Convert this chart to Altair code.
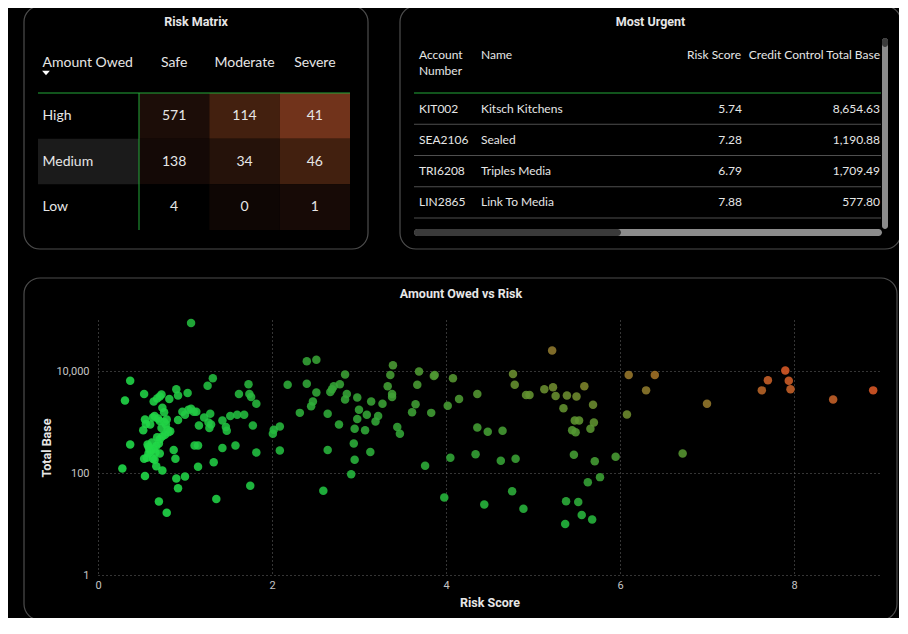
import altair as alt
import pandas as pd

# ---------------- data ----------------
amount_levels = ["High", "Medium", "Low"]
risk_levels = ["Safe", "Moderate", "Severe"]
matrix_counts = [[571, 114, 41], [138, 34, 46], [4, 0, 1]]

table_headers = ["Account Number", "Name", "Risk Score", "Credit Control Total Base"]
acct_numbers = ["KIT002", "SEA2106", "TRI6208", "LIN2865"]
acct_names = ["Kitsch Kitchens", "Sealed", "Triples Media", "Link To Media"]
acct_risk = [5.74, 7.28, 6.79, 7.88]
acct_base = [8654.63, 1190.88, 1709.49, 577.80]

risk_score = [
    1.07, 0.37, 0.31, 0.37, 0.28, 0.53, 0.54, 0.70, 0.79, 0.64,
    0.68, 0.71, 0.73, 0.74, 0.76, 0.82, 0.90, 0.92, 1.03, 1.26,
    1.32, 1.73, 1.74, 1.76, 1.82, 1.62, 1.78, 1.82, 1.75, 1.36,
    1.33, 1.15, 1.00, 0.90, 0.92, 0.74, 0.67, 0.87, 0.89, 0.92,
    0.97, 1.00, 1.04, 1.07, 1.10, 1.13, 1.16, 1.11, 1.15, 1.22,
    1.29, 1.27, 1.30, 1.28, 1.43, 1.47, 1.48, 1.43, 1.58, 1.52,
    1.60, 1.68,
    0.54, 0.55, 0.60, 0.63, 0.65, 0.69, 0.71, 0.76, 0.78, 0.80,
    0.81, 0.83, 0.77, 0.74, 0.71, 0.70, 0.67, 0.64, 0.61, 0.59,
    0.57, 0.52, 0.60, 0.56, 0.53, 0.58, 0.63, 0.65, 0.71, 0.62,
    0.66, 0.58, 0.68, 0.73, 0.79,
    2.18, 2.40, 2.51, 2.40, 2.51, 2.47, 2.45, 2.32, 2.64, 2.77,
    2.09, 2.02, 2.01, 2.09, 2.64, 2.59, 2.67, 2.69, 2.71, 2.78,
    2.84, 2.86, 2.84, 2.98, 3.00, 2.98, 3.09, 3.14, 3.27, 3.22,
    3.19, 2.95, 3.07, 2.94, 2.95, 2.91, 3.13, 3.36, 3.39, 3.33,
    3.38, 3.38, 3.44, 3.47, 3.69, 3.67, 3.87, 3.86, 3.65, 3.61,
    3.83, 3.76, 3.98, 4.08, 4.02, 4.15, 4.05, 4.36, 4.36, 4.48,
    4.65, 4.34, 4.63, 4.44,
    4.80, 4.76, 4.89, 4.77, 4.79, 4.92, 4.96, 5.13, 5.22, 5.23,
    5.26, 5.39, 5.50, 5.59, 5.35, 5.69, 5.48, 5.53, 5.70, 5.45,
    5.49, 5.66, 5.47, 5.71, 5.95, 5.77, 5.63, 5.38, 5.52, 5.56,
    5.37, 5.68, 6.10, 6.40, 6.30, 6.08, 6.72, 7.00, 7.90, 7.70,
    7.94, 7.63, 7.96, 8.45, 8.91,
]
total_base = [
    87100, 6460, 2630, 363, 123, 3550, 87, 27.5, 16.6, 2510,
    2880, 3160, 3470, 1905, 1550, 2820, 4370, 3310, 3720, 5130,
    7240, 5500, 3550, 3090, 2290, 3550, 851, 251, 56, 31,
    162, 132, 85, 78, 50, 112, 135, 282, 190, 1096,
    1585, 1380, 1740, 1820, 1585, 1585, 851, 347, 347, 1230,
    1445, 977, 891, 759, 1072, 794, 676, 309, 347, 1318,
    1380, 1380,
    1122, 912, 891, 1230, 1318, 1175, 1047, 1000, 891, 708,
    631, 661, 562, 525, 457, 380, 339, 295, 282, 295,
    363, 692, 263, 200, 190, 240, 190, 182, 240, 398,
    251, 331, 501, 759, 1122,
    5370, 15500, 16600, 5620, 3800, 2510, 2040, 1510, 1445, 891,
    813, 708, 589, 275, 282, 45, 3890, 4370, 5010, 5500,
    8510, 3550, 2750, 3020, 1740, 1150, 1380, 2510, 2290, 1318,
    1023, 741, 692, 380, 182, 95, 257, 8320, 12900, 5010,
    3550, 3090, 794, 589, 9770, 5370, 8320, 7940, 2240, 1550,
    1510, 138, 33, 7240, 2090, 2820, 200, 3550, 776, 646,
    676, 234, 174, 24,
    190, 44, 20, 8710, 5370, 3390, 3390, 4370, 25100, 4790,
    3240, 3310, 3160, 5010, 1860, 2190, 1072, 1072, 977, 692,
    631, 741, 229, 170, 209, 83, 66, 28, 27, 15,
    10, 12.3, 8320, 8320, 4170, 1410, 240, 2290, 10200, 6610,
    6460, 4170, 4370, 2750, 4170,
]
assert len(risk_score) == len(total_base)

# ---------------- styles ----------------
BG = "#000000"
FRAME = "#4d4d4d"
GREEN = "#22a838"
TXT = "#e6e6e6"
FONT = "Lato"
TFONT = "Roboto"

one = pd.DataFrame({"k": [0]})


def frame(x1, x2, y1, y2):
    return alt.Chart(one).mark_rect(
        cornerRadius=16, fill="transparent", stroke=FRAME, strokeWidth=1.2
    ).encode(x=alt.value(x1), x2=alt.value(x2), y=alt.value(y1), y2=alt.value(y2))


def label(text, x, y, **kw):
    return alt.Chart(one).mark_text(text=text, **kw).encode(x=alt.value(x), y=alt.value(y))


def box(x1, x2, y1, y2, color, r=3):
    return alt.Chart(one).mark_rect(color=color, cornerRadius=r).encode(
        x=alt.value(x1), x2=alt.value(x2), y=alt.value(y1), y2=alt.value(y2))


# ---------------- risk matrix ----------------
rows = []
for i, a in enumerate(amount_levels):
    for j, r in enumerate(risk_levels):
        rows.append({"amount": a, "risk": r, "count": matrix_counts[i][j], "cell": f"{a}|{r}"})
mdf = pd.DataFrame(rows)
cell_keys = list(mdf["cell"])
cell_palette = ["#1c0d08", "#43200f", "#71331b",
                "#140906", "#25120a", "#42200f",
                "#000000", "#0e0604", "#170a06"]

WM, HM = 252, 137
GX = 41  # left edge of the value cells inside the view
x_m = alt.X("risk:N", scale=alt.Scale(domain=risk_levels, range=[GX, WM], paddingInner=0, paddingOuter=0),
            axis=alt.Axis(orient="top", title=None, domain=False, ticks=False, labelAngle=0,
                          labelPadding=31, labelBaseline="middle", labelFont=FONT,
                          labelFontSize=14, labelColor=TXT, zindex=1))
y_m = alt.Y("amount:N", scale=alt.Scale(domain=amount_levels, paddingInner=0, paddingOuter=0),
            axis=alt.Axis(orient="left", title="Amount Owed", titleAngle=0, titleAlign="left",
                          titleBaseline="middle", titleX=-56, titleY=-31, titleFont=FONT,
                          titleFontSize=14, titleFontWeight="normal", titleColor=TXT,
                          domain=False, ticks=False,
                          labelAlign="left", labelPadding=56, labelFont=FONT,
                          labelFontSize=14, labelColor=TXT, zindex=1))

base_m = alt.Chart(mdf)
hl = base_m.transform_filter("datum.amount === 'Medium' && datum.risk === 'Safe'").mark_rect(
    color="#1b1b1b").encode(x=alt.value(-60), x2=alt.value(GX), y=y_m)
cells = base_m.mark_rect().encode(
    x=x_m, y=y_m,
    color=alt.Color("cell:N", scale=alt.Scale(domain=cell_keys, range=cell_palette), legend=None))
nums = base_m.mark_text(font=FONT, fontSize=14, color=TXT).encode(x=x_m, y=y_m, text="count:Q")
topline = alt.Chart(one).mark_rule(color=GREEN, strokeWidth=1).encode(
    x=alt.value(-60), x2=alt.value(WM), y=alt.value(0))
sideline = alt.Chart(one).mark_rule(color=GREEN, strokeWidth=1).encode(
    x=alt.value(GX), y=alt.value(0), y2=alt.value(HM))
tri = alt.Chart(one).mark_point(shape="M -1 -0.6 L 1 -0.6 L 0 0.6 Z", filled=True, color="white",
                                opacity=1, size=60).encode(x=alt.value(-52), y=alt.value(-20))
mtitle = label("Risk Matrix", 98, -71, font=TFONT, fontSize=12.5, fontWeight="bold", color=TXT)

matrix = alt.layer(frame(-74, 270, -87, 156), hl, cells, nums, topline, sideline, tri, mtitle).properties(
    width=WM, height=HM)

# ---------------- table ----------------
tdf = pd.DataFrame({"acct": acct_numbers, "name": acct_names, "risk": acct_risk, "base": acct_base})
WT, HT = 467, 125
y_t = alt.Y("acct:N", scale=alt.Scale(domain=acct_numbers, paddingInner=0, paddingOuter=0), axis=None)
base_t = alt.Chart(tdf)
tkw = dict(font=FONT, fontSize=12, color=TXT)
t_acct = base_t.mark_text(align="left", **tkw).encode(x=alt.value(5), y=y_t, text="acct:N")
t_name = base_t.mark_text(align="left", **tkw).encode(x=alt.value(67), y=y_t, text="name:N")
t_risk = base_t.mark_text(align="right", **tkw).encode(
    x=alt.value(328), y=y_t, text=alt.Text("risk:Q", format=".2f"))
t_base = base_t.mark_text(align="right", **tkw).encode(
    x=alt.value(466), y=y_t, text=alt.Text("base:Q", format=",.2f"))
seps = base_t.mark_rule(color="#4f4f4f", strokeWidth=1).encode(
    x=alt.value(0), x2=alt.value(WT),
    y=alt.Y("acct:N", bandPosition=1, scale=alt.Scale(domain=acct_numbers, paddingInner=0, paddingOuter=0), axis=None))
t_green = alt.Chart(one).mark_rule(color=GREEN, strokeWidth=1).encode(
    x=alt.value(0), x2=alt.value(WT), y=alt.value(0))
h1a, h1b = table_headers[0].split(" ")
hdrs = [
    label(h1a, 5, -38, align="left", **tkw),
    label(h1b, 5, -22, align="left", **tkw),
    label(table_headers[1], 67, -38, align="left", **tkw),
    label(table_headers[2], 327, -38, align="right", **tkw),
    label(table_headers[3], 466, -38, align="right", **tkw),
]
scroll = [
    box(468, 474, -55, 136, "#8c8c8c"),
    box(468, 474, -55, -46, "#3c3c3c"),
    box(0, 468, 136, 143, "#8c8c8c", 3.5),
    box(0, 207, 136, 143, "#3a3a3a", 3.5),
]
ttitle = label("Most Urgent", 236.5, -71, font=TFONT, fontSize=12.5, fontWeight="bold", color=TXT)

table = alt.layer(frame(-14, 487, -87, 156), t_green, seps, t_acct, t_name, t_risk, t_base,
                  *hdrs, *scroll, ttitle).properties(width=WT, height=HT)

# ---------------- scatter ----------------
sdf = pd.DataFrame({"risk": risk_score, "base": total_base})
WS, HS = 783, 255
u_domain = [0, 5, 10, 15, 19, 23, 28, 32]
u_range = ["#20e44c", "#22bd40", "#34a537", "#4f9a33", "#6c8d30", "#917a2f", "#c0642b", "#dc5927"]
gridkw = dict(grid=True, gridColor="#6a6a6a", gridDash=[1, 3], gridWidth=1, domain=False, ticks=False,
              labelColor="#c4c4c4", labelFont=TFONT, labelFontSize=11,
              titleColor=TXT, titleFont=TFONT, titleFontSize=12.5, titleFontWeight="bold")
pts = alt.Chart(sdf).transform_calculate(
    u="datum.risk * log(datum.base) / LN10"
).mark_circle(size=72, opacity=0.88).encode(
    x=alt.X("risk:Q", scale=alt.Scale(domain=[0, 9], nice=False, zero=False),
            axis=alt.Axis(values=[0, 2, 4, 6, 8], labelFlush=False, labelPadding=10,
                          labelBaseline="middle", title="Risk Score", titleX=WS / 2, titleY=27,
                          titleBaseline="middle", titleAlign="center", **gridkw)),
    y=alt.Y("base:Q", scale=alt.Scale(type="log", domain=[1, 100000], nice=False),
            axis=alt.Axis(values=[1, 100, 10000], format=",", labelPadding=9,
                          title="Total Base", titleX=-52, titleY=HS / 2, titleAngle=270,
                          titleBaseline="middle", titleAlign="center", **gridkw)),
    color=alt.Color("u:Q", scale=alt.Scale(domain=u_domain, range=u_range, clamp=True), legend=None),
)
stitle = label("Amount Owed vs Risk", 363, -26, font=TFONT, fontSize=12.5, fontWeight="bold", color=TXT)
scatter = alt.layer(frame(-74, 799, -42, 300), pts, stitle).properties(width=WS, height=HS)

# ---------------- layout ----------------
chart = alt.vconcat(
    alt.hconcat(matrix, table, spacing=28),
    scatter,
    spacing=25,
).properties(
    padding={"left": 14, "top": -4, "right": -4, "bottom": -4},
    background=BG,
).configure_view(stroke="transparent")

chart.save("out.html", embed_options={"renderer": "svg", "actions": False})
